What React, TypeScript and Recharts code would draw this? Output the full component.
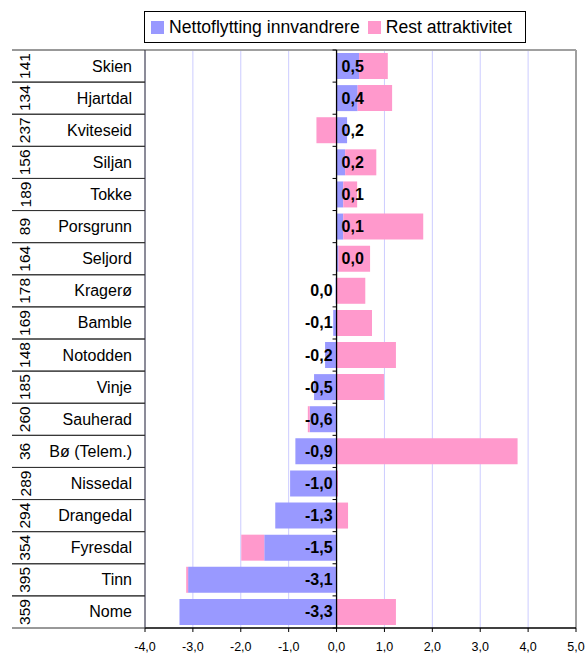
import { BarChart, Bar, XAxis, YAxis, CartesianGrid, ReferenceLine, LabelList } from 'recharts';

// municipalities, top to bottom
const CATEGORIES = [
  'Skien', 'Hjartdal', 'Kviteseid', 'Siljan', 'Tokke', 'Porsgrunn', 'Seljord', 'Kragerø', 'Bamble',
  'Notodden', 'Vinje', 'Sauherad', 'Bø (Telem.)', 'Nissedal', 'Drangedal', 'Fyresdal', 'Tinn', 'Nome',
];
const RANKS = [141, 134, 237, 156, 189, 89, 164, 178, 169, 148, 185, 260, 36, 289, 294, 354, 395, 359];
const NETTO = [
  0.47, 0.44, 0.22, 0.18, 0.14, 0.14, 0.04, -0.02, -0.07,
  -0.24, -0.47, -0.56, -0.86, -0.97, -1.28, -1.51, -3.1, -3.28,
];
const REST = [
  0.6, 0.72, -0.42, 0.65, 0.29, 1.67, 0.66, 0.6, 0.74,
  1.24, 0.99, -0.04, 3.78, 0.03, 0.24, -0.48, -0.04, 1.24,
];
const X_TICKS = [-4, -3, -2, -1, 0, 1, 2, 3, 4, 5];

const SERIES = [
  { key: 'netto', name: 'Nettoflytting innvandrere', color: '#9999ff' },
  { key: 'rest', name: 'Rest attraktivitet', color: '#ff99cc' },
];

const W = 585;
const H = 654;
const MARGIN = { top: 50, right: 9, bottom: 0, left: 12 };
const Y_AXIS_W = 133;
const X_AXIS_H = 26;
const FONT = '"Liberation Sans", Arial, sans-serif';

const plotTop = MARGIN.top;
const plotBottom = H - MARGIN.bottom - X_AXIS_H;
const band = (plotBottom - plotTop) / CATEGORIES.length;
const tableLeft = MARGIN.left;
const tableRight = MARGIN.left + Y_AXIS_W;

const data = CATEGORIES.map((name, i) => ({
  name,
  rank: RANKS[i],
  netto: NETTO[i],
  rest: REST[i],
}));

const fmt = (v: number) => (Math.abs(v) < 0.05 ? '0,0' : v.toFixed(1).replace('.', ','));

function CategoryTick(props: any) {
  const { y, payload } = props;
  const idx = payload.index ?? CATEGORIES.indexOf(payload.value);
  const top = y - band / 2;
  const bottom = y + band / 2;
  return (
    <g>
      <line x1={tableLeft} x2={tableRight} y1={top} y2={top} stroke="#333" strokeWidth={1} />
      <line x1={tableLeft} x2={tableRight} y1={bottom} y2={bottom} stroke="#333" strokeWidth={1} />
      <text
        x={tableLeft + 13}
        y={y}
        transform={`rotate(-90 ${tableLeft + 13} ${y})`}
        textAnchor="middle"
        dominantBaseline="central"
        fontSize={15.5}
        fontFamily={FONT}
        fill="#000"
      >
        {RANKS[idx]}
      </text>
      <text
        x={tableRight - 13}
        y={y}
        textAnchor="end"
        dominantBaseline="central"
        fontSize={16}
        fontFamily={FONT}
        fill="#000"
      >
        {payload.value}
      </text>
    </g>
  );
}

function NettoLabel(props: any) {
  const { x, y, width, height, value } = props;
  const v = Number(value);
  const left = Math.min(x, x + width);
  const right = Math.max(x, x + width);
  const zero = v >= 0 ? left : right;
  return (
    <text
      x={v >= 0 ? zero + 5 : zero - 4}
      y={y + height / 2}
      textAnchor={v >= 0 ? 'start' : 'end'}
      dominantBaseline="central"
      fontSize={16}
      fontWeight="bold"
      fontFamily={FONT}
      fill="#000"
    >
      {fmt(v)}
    </text>
  );
}

function ZeroAxis(props: any) {
  const { x1, y1, y2 } = props;
  const n = CATEGORIES.length;
  const step = (y2 - y1) / n;
  const marks = [];
  for (let i = 0; i <= n; i++) {
    const yy = y1 + step * i;
    marks.push(<line key={i} x1={x1 - 4} x2={x1} y1={yy} y2={yy} stroke="#000" strokeWidth={1} />);
  }
  return (
    <g>
      <line x1={x1} x2={x1} y1={y1} y2={y2} stroke="#000" strokeWidth={1.3} />
      {marks}
    </g>
  );
}

function Legend() {
  return (
    <div
      style={{
        position: 'absolute',
        left: 144,
        top: 11,
        width: 382,
        height: 32,
        boxSizing: 'border-box',
        border: '1px solid #000',
        display: 'flex',
        alignItems: 'center',
        fontFamily: FONT,
        fontSize: 17.6,
        color: '#000',
        background: '#fff',
        paddingLeft: 6,
        whiteSpace: 'nowrap',
      }}
    >
      {SERIES.map((s, i) => (
        <div key={s.key} style={{ display: 'flex', alignItems: 'center', marginLeft: i ? 8 : 0 }}>
          <span style={{ width: 13, height: 13, background: s.color, display: 'inline-block', marginRight: 5 }} />
          <span>{s.name}</span>
        </div>
      ))}
    </div>
  );
}

export default function App() {
  return (
    <div style={{ position: 'absolute', left: 0, top: 0, width: W, height: H, background: '#fff' }}>
      <BarChart
        width={W}
        height={H}
        data={data}
        layout="vertical"
        stackOffset="sign"
        margin={MARGIN}
        barSize={26}
      >
        <CartesianGrid horizontal={false} stroke="#ccccff" strokeDasharray="" />
        <CartesianGrid
          vertical={false}
          stroke="#a0a0a0"
          strokeWidth={2}
          horizontalCoordinatesGenerator={() => [plotTop]}
        />
        <XAxis
          type="number"
          domain={[-4, 5]}
          ticks={X_TICKS}
          interval={0}
          height={X_AXIS_H}
          tickFormatter={(v: number) => v.toFixed(1).replace('.', ',')}
          tick={{ fontSize: 12.5, fill: '#000', fontFamily: FONT }}
          axisLine={{ stroke: '#000', strokeWidth: 1.3 }}
          tickLine={{ stroke: '#000' }}
          tickSize={4}
          tickMargin={10}
        />
        <YAxis
          type="category"
          dataKey="name"
          width={Y_AXIS_W}
          tick={CategoryTick}
          tickLine={false}
          interval={0}
          axisLine={{ stroke: '#333', strokeWidth: 1 }}
        />
        <ReferenceLine x={5} stroke="#a0a0a0" strokeWidth={2} />
        {SERIES.map((s) => (
          <Bar key={s.key} dataKey={s.key} name={s.name} stackId="a" fill={s.color} isAnimationActive={false}>
            {s.key === 'netto' ? <LabelList dataKey="netto" content={NettoLabel} /> : null}
          </Bar>
        ))}
        <ReferenceLine x={0} shape={ZeroAxis} />
      </BarChart>
      <Legend />
    </div>
  );
}
